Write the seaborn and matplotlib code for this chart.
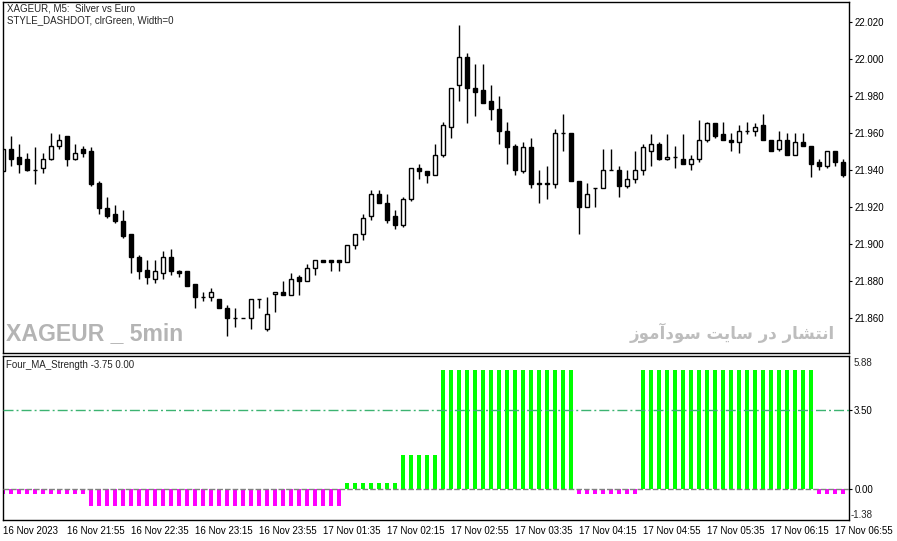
import numpy as np
import pandas as pd
import seaborn as sns
import matplotlib.pyplot as plt
from matplotlib import font_manager

# XAGEUR M5 candles (one per 5 minutes, market break after 23:55)
opens = [21.939, 21.951, 21.947, 21.946, 21.940, 21.941, 21.946, 21.953, 21.958, 21.946,
         21.951, 21.950, 21.933, 21.919, 21.916, 21.912, 21.905, 21.893, 21.886, 21.881,
         21.884, 21.893, 21.885, 21.885, 21.878, 21.871, 21.871, 21.870, 21.865, 21.860,
         21.860, 21.860, 21.870, 21.854, 21.873, 21.874, 21.872, 21.882, 21.880, 21.887,
         21.891, 21.891, 21.891, 21.890, 21.899, 21.905, 21.915, 21.927, 21.922, 21.915,
         21.910, 21.924, 21.941, 21.939, 21.937, 21.948, 21.963, 21.986, 22.001, 21.984,
         21.983, 21.977, 21.973, 21.961, 21.953, 21.939, 21.952, 21.932, 21.933, 21.932,
         21.960, 21.960, 21.934, 21.920, 21.930, 21.930, 21.940, 21.940, 21.931, 21.935,
         21.940, 21.950, 21.954, 21.946, 21.947, 21.946, 21.943, 21.946, 21.956, 21.965,
         21.959, 21.956, 21.955, 21.961, 21.961, 21.964, 21.956, 21.951, 21.956, 21.948,
         21.955, 21.953, 21.944, 21.942, 21.950, 21.944]
highs = [21.951, 21.958, 21.954, 21.949, 21.952, 21.949, 21.960, 21.959, 21.958, 21.954,
         21.953, 21.952, 21.934, 21.925, 21.921, 21.918, 21.905, 21.894, 21.891, 21.891,
         21.896, 21.897, 21.886, 21.885, 21.878, 21.874, 21.876, 21.870, 21.867, 21.865,
         21.860, 21.870, 21.870, 21.871, 21.874, 21.880, 21.884, 21.883, 21.889, 21.891,
         21.891, 21.891, 21.891, 21.899, 21.905, 21.916, 21.929, 21.929, 21.927, 21.918,
         21.925, 21.941, 21.943, 21.939, 21.954, 21.966, 21.984, 22.018, 22.003, 21.997,
         21.997, 21.986, 21.980, 21.966, 21.954, 21.955, 21.957, 21.940, 21.942, 21.962,
         21.970, 21.960, 21.934, 21.933, 21.930, 21.951, 21.951, 21.942, 21.940, 21.950,
         21.954, 21.959, 21.955, 21.959, 21.953, 21.959, 21.948, 21.967, 21.966, 21.965,
         21.966, 21.960, 21.964, 21.966, 21.965, 21.970, 21.956, 21.961, 21.960, 21.960,
         21.960, 21.953, 21.946, 21.950, 21.950, 21.946]
lows = [21.939, 21.942, 21.938, 21.939, 21.932, 21.938, 21.945, 21.951, 21.942, 21.945,
        21.947, 21.931, 21.916, 21.914, 21.911, 21.903, 21.884, 21.881, 21.878, 21.879,
        21.881, 21.883, 21.882, 21.877, 21.865, 21.869, 21.869, 21.865, 21.850, 21.855,
        21.860, 21.854, 21.865, 21.853, 21.863, 21.872, 21.872, 21.872, 21.880, 21.883,
        21.890, 21.885, 21.885, 21.890, 21.897, 21.902, 21.913, 21.922, 21.911, 21.908,
        21.909, 21.923, 21.935, 21.933, 21.937, 21.947, 21.957, 21.977, 21.965, 21.969,
        21.976, 21.967, 21.954, 21.943, 21.937, 21.938, 21.930, 21.922, 21.924, 21.930,
        21.950, 21.934, 21.905, 21.920, 21.920, 21.930, 21.940, 21.925, 21.930, 21.933,
        21.937, 21.942, 21.945, 21.945, 21.941, 21.943, 21.940, 21.944, 21.955, 21.957,
        21.956, 21.950, 21.949, 21.959, 21.958, 21.956, 21.950, 21.950, 21.948, 21.948,
        21.953, 21.936, 21.940, 21.941, 21.942, 21.936]
closes = [21.951, 21.946, 21.943, 21.940, 21.940, 21.946, 21.953, 21.956, 21.946, 21.949,
          21.949, 21.932, 21.919, 21.915, 21.912, 21.904, 21.893, 21.885, 21.882, 21.885,
          21.893, 21.885, 21.884, 21.877, 21.871, 21.871, 21.874, 21.865, 21.860, 21.860,
          21.860, 21.870, 21.870, 21.862, 21.874, 21.872, 21.881, 21.880, 21.887, 21.891,
          21.890, 21.890, 21.890, 21.899, 21.905, 21.914, 21.927, 21.922, 21.913, 21.910,
          21.924, 21.941, 21.939, 21.937, 21.948, 21.964, 21.984, 22.001, 21.984, 21.982,
          21.976, 21.973, 21.961, 21.952, 21.940, 21.952, 21.932, 21.933, 21.932, 21.960,
          21.960, 21.934, 21.920, 21.927, 21.930, 21.940, 21.940, 21.931, 21.935, 21.940,
          21.952, 21.954, 21.946, 21.947, 21.947, 21.943, 21.946, 21.956, 21.965, 21.958,
          21.956, 21.955, 21.961, 21.961, 21.963, 21.956, 21.950, 21.956, 21.948, 21.955,
          21.953, 21.943, 21.942, 21.950, 21.944, 21.937]

# Four_MA_Strength histogram, one value per candle
strength = [-0.25, -0.25, -0.25, -0.25, -0.25, -0.25, -0.25, -0.25, -0.25, -0.25,
            -0.25, -0.75, -0.75, -0.75, -0.75, -0.75, -0.75, -0.75, -0.75, -0.75,
            -0.75, -0.75, -0.75, -0.75, -0.75, -0.75, -0.75, -0.75, -0.75, -0.75,
            -0.75, -0.75, -0.75, -0.75, -0.75, -0.75, -0.75, -0.75, -0.75, -0.75,
            -0.75, -0.75, -0.75, 0.25, 0.25, 0.25, 0.25, 0.25, 0.25, 0.25,
            1.5, 1.5, 1.5, 1.5, 1.5, 5.25, 5.25, 5.25, 5.25, 5.25,
            5.25, 5.25, 5.25, 5.25, 5.25, 5.25, 5.25, 5.25, 5.25, 5.25,
            5.25, 5.25, -0.25, -0.25, -0.25, -0.25, -0.25, -0.25, -0.25, -0.25,
            5.25, 5.25, 5.25, 5.25, 5.25, 5.25, 5.25, 5.25, 5.25, 5.25,
            5.25, 5.25, 5.25, 5.25, 5.25, 5.25, 5.25, 5.25, 5.25, 5.25,
            5.25, 5.25, -0.25, -0.25, -0.25, -0.25]
level = 3.5

# time axis labels (candle index -> label)
tick_bars = [0, 8, 16, 24, 32, 40, 48, 56, 64, 72, 80, 88, 96, 104]
tick_labels = ['16 Nov 2023', '16 Nov 21:55', '16 Nov 22:35', '16 Nov 23:15', '16 Nov 23:55',
               '17 Nov 01:35', '17 Nov 02:15', '17 Nov 02:55', '17 Nov 03:35', '17 Nov 04:15',
               '17 Nov 04:55', '17 Nov 05:35', '17 Nov 06:15', '17 Nov 06:55']
price_ticks = [21.86, 21.88, 21.90, 21.92, 21.94, 21.96, 21.98, 22.00, 22.02]

sns.set_style('white')
plt.rcParams['font.family'] = ['Liberation Sans', 'DejaVu Sans']
plt.rcParams['font.size'] = 7

W, H = 897, 541
fig = plt.figure(figsize=(W / 100, H / 100), dpi=100)


def box(left, top, right, bottom):
    return [left / W, 1 - bottom / H, (right - left) / W, (bottom - top) / H]


ax = fig.add_axes(box(2.7, 2, 849, 353))
ax2 = fig.add_axes(box(2.7, 356, 849, 520))

# Candles
df = pd.DataFrame({'open': opens, 'high': highs, 'low': lows, 'close': closes})
df['bar'] = np.arange(len(df))
up = df['close'] > df['open']
ax.vlines(df['bar'], df['low'], df['high'], color='black', lw=1, zorder=1)
ax.bar(df['bar'], (df['close'] - df['open']).abs(), bottom=df[['open', 'close']].min(axis=1),
       width=0.52, color=np.where(up, 'white', 'black'), edgecolor='black', linewidth=1, zorder=2)

ax.set_xlim(-0.03, 105.8)
ax.set_ylim(21.8409, 22.0306)
ax.set_xticks([])
ax.yaxis.tick_right()
ax.set_yticks(price_ticks)
ax.set_yticklabels(['%.3f' % p for p in price_ticks])
ax.tick_params(axis='y', direction='out', length=2.2, width=0.8, pad=1.5, labelsize=7, colors='black')

# Histogram
hist_df = pd.DataFrame({'bar': np.arange(len(strength)), 'strength': strength})
hist_df['side'] = np.where(hist_df['strength'] > 0, 'up', 'down')
sns.barplot(data=hist_df, x='bar', y='strength', hue='side', palette={'up': '#00ff00', 'down': '#ff00ff'},
            native_scale=True, width=0.5, linewidth=0, saturation=1, errorbar=None, legend=False, ax=ax2)
ax2.axhline(level, color='#3cb371', lw=1, linestyle=(0, (7.2, 2.2, 1.4, 2.2)), zorder=4)
ax2.axhline(0, color='#808080', lw=1, linestyle=(0, (4, 1.5)), zorder=5)

ax2.set_xlim(-0.03, 105.8)
ax2.set_ylim(-1.38, 5.88)
ax2.set_xlabel('')
ax2.set_ylabel('')
ax2.yaxis.tick_right()
ax2.set_yticks([3.5, 0])
ax2.set_yticklabels(['3.50', '0.00'])
ax2.tick_params(axis='y', direction='out', length=2.2, width=0.8, pad=1.5, labelsize=7, colors='black')
ax2.set_xticks(tick_bars)
ax2.set_xticklabels(tick_labels)
for lab in ax2.get_xticklabels():
    lab.set_horizontalalignment('left')
ax2.tick_params(axis='x', direction='out', length=3.6, width=0.8, pad=0.5, labelsize=7, colors='black')
fig.text(854 / W, 1 - 362.7 / H, '5.88', va='center', fontsize=7)
fig.text(851 / W, 1 - 514.7 / H, '-1.38', va='center', fontsize=7)

for a in (ax, ax2):
    for s in a.spines.values():
        s.set_visible(True)
        s.set_color('black')
        s.set_linewidth(1)

# Labels and watermarks
fig.text(7 / W, 1 - 8.5 / H, 'XAGEUR, M5:  Silver vs Euro', va='center', fontsize=7)
fig.text(7 / W, 1 - 20.5 / H, 'STYLE_DASHDOT, clrGreen, Width=0', va='center', fontsize=7)
fig.text(6 / W, 1 - 365.5 / H, 'Four_MA_Strength -3.75 0.00', va='center', fontsize=7)

names = {f.name for f in font_manager.fontManager.ttflist}
wm_sizes = {'Liberation Sans Narrow': 20, 'DejaVu Sans Condensed': 16.5, 'Liberation Sans': 16.6}
wm_font = next(n for n in wm_sizes if n in names or n == 'Liberation Sans')
fig.text(6 / W, 1 - 334 / H, 'XAGEUR _ 5min', va='center', ha='left', family=[wm_font, 'DejaVu Sans'],
         fontweight='bold', fontsize=wm_sizes[wm_font], color='#b4b4b4')
# Persian watermark "انتشار در سایت سودآموز" in shaped (visual order) form
fig.text(835 / W, 1 - 333 / H,
         '\uFEAF\uFEEE\uFEE3\uFE81\uFEA9\uFEEE\uFEB3 \uFE96\uFEF3\uFE8E\uFEB3 \uFEAD\uFEA9 '
         '\uFEAD\uFE8E\uFEB8\uFE98\uFEE7\uFE8D',
         va='center', ha='right', family=['DejaVu Sans'], fontweight='bold', fontsize=12, color='#bdbdbd')

fig.savefig('out.png', dpi=100)
